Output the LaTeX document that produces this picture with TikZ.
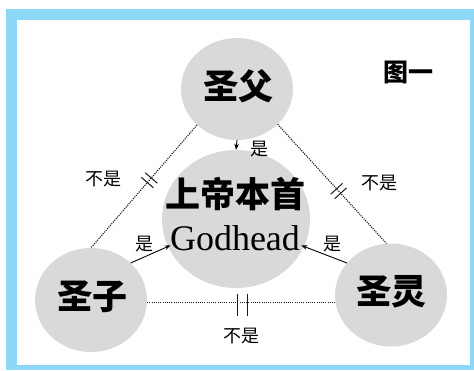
\documentclass[tikz,border=0pt]{standalone}
\usepackage{fontspec}
\setmainfont{Liberation Serif}
\newfontfamily\cjk{Noto Sans CJK SC}
\usetikzlibrary{arrows.meta,decorations.markings,shapes.geometric}
\definecolor{frameblue}{HTML}{8DD8F6}
\definecolor{discgray}{HTML}{D9D9D9}
\tikzset{
  disc/.style={ellipse, fill=discgray, draw=none, inner sep=0pt},
  bigname/.style={font=\cjk\bfseries\fontsize{35}{35}\selectfont, inner sep=0pt},
  smalllabel/.style={font=\cjk\fontsize{18}{18}\selectfont, inner sep=0pt},
  notline/.style={dash pattern=on 1.1pt off 1.1pt, line width=1.1pt, black!90},
  isarrow/.style={-{Stealth[length=6pt,width=4.5pt]}, line width=0.9pt},
  twoticks/.style={postaction={decorate}, decoration={markings,
      mark=at position #1 with {\draw[solid,line width=1pt] (-3pt,-8pt)--(-3pt,8pt) (3pt,-8pt)--(3pt,8pt);}}},
  longticks/.style={postaction={decorate}, decoration={markings,
      mark=at position #1 with {\draw[solid,line width=1pt] (-5pt,-13pt)--(-5pt,9pt) (5pt,-13pt)--(5pt,9pt);}}}
}
\begin{document}
\begin{tikzpicture}[x=1pt,y=-1pt]
\useasboundingbox (0,0) rectangle (474,370);
% frame
\fill[frameblue] (6,9) rectangle (474,370);
\fill[white] (17,20) rectangle (470,365);
% discs
\node[disc, minimum width=112pt, minimum height=102pt] (father) at (237,89) {};
\node[disc, minimum width=148pt, minimum height=138pt] (godhead) at (236,219) {};
\node[disc, minimum width=112pt, minimum height=104pt] (son) at (91,300) {};
\node[disc, minimum width=112pt, minimum height=103pt] (spirit) at (391,295) {};
% disc texts
\node[bigname] (fathertext) at (238,86) {圣父};
\node[bigname] (sontext) at (92,297) {圣子};
\node[bigname] (spirittext) at (391,292) {圣灵};
\node[bigname] (godheadcn) at (235,194) {上帝本首};
\node[font=\fontsize{36}{36}\selectfont, inner sep=0pt, anchor=base] (godheaden) at (235,250) {Godhead};
\node[font=\cjk\bfseries\fontsize{25}{25}\selectfont, inner sep=0pt] (figtitle) at (408,72) {图一};
% "is not" connectors
\draw[notline, twoticks=0.45] (father.222) -- (son.north);
\draw[notline, twoticks=0.56] (father.319) -- (spirit.95);
\draw[notline, longticks=0.51] (son.357) -- (spirit.west |- son.357);
% "is" arrows
\draw[isarrow] (father.south) -- (godhead.north);
\draw[isarrow, shorten >=-3pt] (son.43) -- (godhead.202);
\draw[isarrow, shorten >=-3pt] (spirit.144) -- (godhead.338);
% labels
\node[smalllabel] (istop) at (259,149) {是};
\node[smalllabel] (isleft) at (144,244) {是};
\node[smalllabel] (isright) at (332,244) {是};
\node[smalllabel] (notleft) at (103,179) {不是};
\node[smalllabel] (notright) at (379,183) {不是};
\node[smalllabel] (notbottom) at (241,336) {不是};
\end{tikzpicture}
\end{document}
